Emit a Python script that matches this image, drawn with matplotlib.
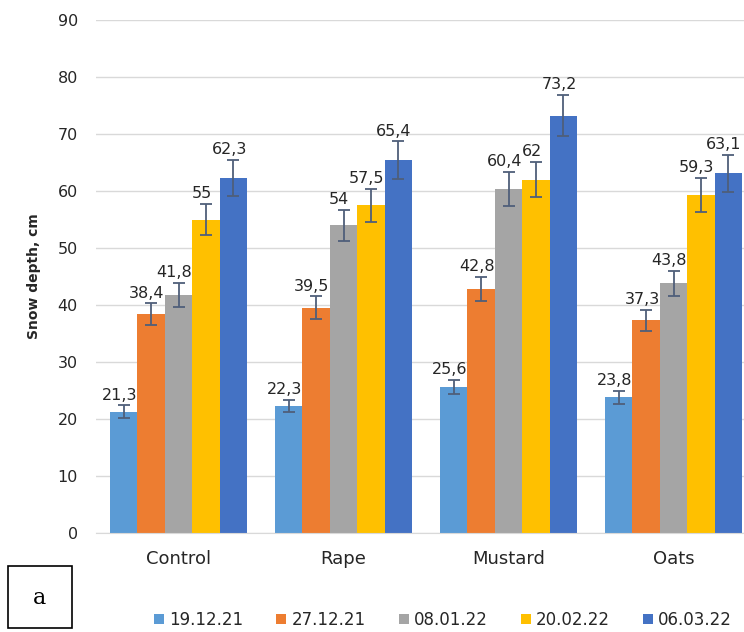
"""Snow depth under different cover crops, grouped bar chart with error bars."""

import matplotlib.pyplot as plt
import numpy as np
from matplotlib.patches import Rectangle

categories = ["Control", "Rape", "Mustard", "Oats"]
dates = ["19.12.21", "27.12.21", "08.01.22", "20.02.22", "06.03.22"]
colors = ["#5B9BD5", "#ED7D31", "#A5A5A5", "#FFC000", "#4472C4"]

# one list per date: Control, Rape, Mustard, Oats
depth_1912 = [21.3, 22.3, 25.6, 23.8]
depth_2712 = [38.4, 39.5, 42.8, 37.3]
depth_0801 = [41.8, 54.0, 60.4, 43.8]
depth_2002 = [55.0, 57.5, 62.0, 59.3]
depth_0603 = [62.3, 65.4, 73.2, 63.1]

err_1912 = [1.1, 1.1, 1.3, 1.2]
err_2712 = [1.9, 2.0, 2.1, 1.9]
err_0801 = [2.1, 2.7, 3.0, 2.2]
err_2002 = [2.7, 2.9, 3.1, 3.0]
err_0603 = [3.1, 3.3, 3.6, 3.2]

series = [depth_1912, depth_2712, depth_0801, depth_2002, depth_0603]
errors = [err_1912, err_2712, err_0801, err_2002, err_0603]


def fmt(v):
    s = f"{v:.1f}".rstrip("0").rstrip(".")
    return s.replace(".", ",")


fig = plt.figure(figsize=(7.44, 6.32), dpi=100)
ax = fig.add_axes([96 / 744, 99 / 632, 660 / 744, 513 / 632])

x = np.arange(len(categories))
width = 0.166
for i, (vals, errs) in enumerate(zip(series, errors)):
    pos = x + (i - 2) * width
    ax.bar(pos, vals, width, color=colors[i], label=dates[i], zorder=2)
    ax.errorbar(pos, vals, yerr=errs, fmt="none", ecolor="#4F5F7A",
                elinewidth=1.3, capsize=4, capthick=1.3, zorder=3)
    for p, v, e in zip(pos, vals, errs):
        ax.annotate(fmt(v), (p, v + e), xytext=(-3, 2), textcoords="offset points",
                    ha="center", va="bottom", fontsize=11.5, color="#262626",
                    zorder=4)

ax.set_xlim(-0.5, len(categories) - 0.5)
ax.set_ylim(0, 90)
ax.set_yticks(range(0, 91, 10))
ax.set_xticks(x)
ax.set_xticklabels(categories, fontsize=13, color="#262626")
ax.tick_params(axis="y", length=0, pad=13, labelsize=11.5, labelcolor="#262626")
ax.tick_params(axis="x", length=0, pad=12)
ax.grid(axis="y", color="#D9D9D9", linewidth=1, zorder=0)
for side in ["top", "right", "left"]:
    ax.spines[side].set_visible(False)
ax.spines["bottom"].set_color("#D9D9D9")
ax.set_ylabel("Snow depth, cm", fontsize=10, fontweight="bold", color="#262626",
              labelpad=12)

fig.legend(loc="center", bbox_to_anchor=(443 / 744, 1 - 620 / 632), ncol=5,
           frameon=False, fontsize=12, handlelength=0.6, handleheight=0.6,
           handletextpad=0.3, columnspacing=2.0, labelcolor="#262626")

fig.patches.append(Rectangle((8 / 744, 4 / 632), 64 / 744, 62 / 632,
                             transform=fig.transFigure, fill=False,
                             edgecolor="black", linewidth=1.2))
fig.text(40 / 744, 1 - 598 / 632, "a", fontsize=16, family="DejaVu Serif",
         ha="center", va="center")

fig.savefig("out.png", dpi=100)
